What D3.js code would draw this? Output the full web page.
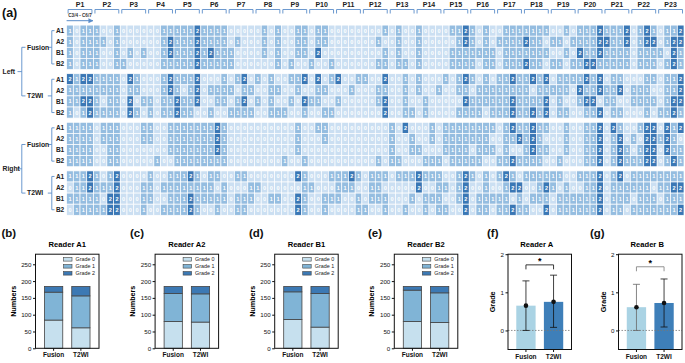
<!DOCTYPE html>
<html>
<head>
<meta charset="utf-8">
<script src="https://cdn.jsdelivr.net/npm/d3@7"></script>
<style>
  body { margin: 0; background: #fff; }
  svg { display: block; font-family: "Liberation Sans", Arial, sans-serif; }
</style>
</head>
<body>
<div id="chart"></div>
<script>
// ---- data ----
const patients = d3.range(1, 24).map(i => "P" + i);
const readers = ["A1", "A2", "B1", "B2"];
const sides = ["Left", "Right"];
const methods = ["Fusion", "T2WI"];

// grade per cell, one string per reader, 4 digits per patient (C3/4 .. C6/7)
const leftFusion = [
  "1011 1001 0000 0011 1112 1111 0000 0101 0011 0110 0000 0001 0100 1000 0112 1010 0111 1111 0010 1112 1112 0121 0112",
  "1011 1101 0000 0012 1112 1111 0100 0101 0011 0110 0000 0010 0100 1000 0012 1010 1111 2110 1101 1112 2112 0122 0122",
  "1011 1001 0101 0012 1112 1211 1000 0101 0011 0200 0000 0001 0100 1000 0111 1111 0111 1111 0010 2112 1111 0111 1021",
  "1011 1001 1000 0011 1112 1111 1000 0001 0100 1001 0000 0011 0110 1000 0111 1011 0111 2110 1101 1221 1111 0111 0121"
];
const leftT2WI = [
  "2122 1111 0210 0012 1112 0001 0120 1010 0112 0201 2001 1002 0010 1000 1012 1010 1121 1212 0111 1212 0110 0011 0112",
  "1111 1111 0110 0012 1012 0111 1011 0011 0010 0110 0010 0011 0010 1001 0011 0111 1111 1011 1110 2112 1120 1110 0112",
  "1122 1011 0201 1011 2112 0011 0120 1010 0102 1100 1000 0012 0010 0100 0002 1111 1121 1112 0100 1220 1100 1111 0122",
  "1012 1111 0210 1011 2110 0100 1111 0011 1001 0011 0000 0002 0011 0100 0011 1101 1121 1212 0110 0112 0110 0010 1121"
];
const rightFusion = [
  "1111 0111 0001 1001 1111 1121 0000 0000 0010 0110 0000 0000 1020 0010 1111 1111 0121 1211 0010 0112 0210 0122 0212",
  "1111 0111 0001 1001 1111 1121 0000 0000 0010 0010 0000 0000 1001 0010 1111 1110 0112 1210 0010 0112 0120 1022 1210",
  "1111 0011 0000 0001 1111 1121 0000 0000 0010 0000 0000 0000 1001 1000 1111 0111 0100 1211 0010 0112 0121 0122 0211",
  "1111 0011 0000 0100 1111 1111 0000 0000 1001 0000 0000 0010 1100 0111 0111 1100 1121 1110 0100 0112 0121 1122 0121"
];
const rightT2WI = [
  "1112 1012 0000 1001 1121 0110 0110 0000 0021 0001 1121 0111 0111 2111 0012 1010 1210 1111 1100 1112 0120 1111 1111",
  "0112 1112 0001 1011 1111 1101 0001 1000 0001 1000 1110 0110 0000 2001 1012 0010 0122 0012 1010 0112 0111 1110 1122",
  "1111 1022 0001 1001 1121 1111 0111 0011 0021 0011 1001 0111 0001 0111 0012 0111 1101 0111 0111 1112 0111 0111 0111",
  "0111 1122 0001 0011 1121 0010 0110 0000 0021 0010 0001 1001 0010 0101 1002 0110 1121 1002 0111 1112 0110 1111 1112"
];

// stacked counts [grade 0, grade 1, grade 2] per reader A1, A2, B1, B2
const stackReaders = ["Reader A1", "Reader A2", "Reader B1", "Reader B2"];
const gradeNames = ["Grade 0", "Grade 1", "Grade 2"];
const fusionCounts = [[84, 83, 17], [80, 83, 21], [86, 82, 16], [80, 93, 11]];
const t2wiCounts = [[61, 95, 28], [78, 84, 22], [63, 100, 21], [77, 88, 19]];
const countTicks = [0, 50, 100, 150, 200, 250];

// mean grade with error range, readers A and B
const meanReaders = ["Reader A", "Reader B"];
const meanFusion = [0.65, 0.61];
const meanT2WI = [0.75, 0.72];
const errFusion = [[0, 1.30], [0, 1.21]];
const errT2WI = [[0.08, 1.45], [0.09, 1.35]];
const sigLevel = [1.72, 1.67];
const gradeTicks = [0, 1, 2];

// ---- drawing ----
const svg = d3.select("#chart").append("svg")
  .attr("width", 685).attr("height", 363);

const blue = "#5b8dc9";
const cellColor = d3.scaleOrdinal().domain([0, 1, 2]).range(["#cbdff2", "#95bde0", "#3a77b5"]);

// panel (a) heatmap
const groups = [leftFusion, leftT2WI, rightFusion, rightT2WI];
const cells = [];
groups.forEach((g, gi) => g.forEach((row, ri) => {
  row.replace(/\s/g, "").split("").forEach((v, ci) => cells.push({g: gi, r: ri, c: ci, v: +v}));
}));

const x = d3.scaleBand().domain(d3.range(92)).range([66.6, 684]);
const gy = d3.scaleBand().domain(d3.range(4)).range([25.1, 215.3]).paddingInner(0.0864);
const ry = d3.scaleBand().domain(d3.range(4)).range([0, gy.bandwidth()]);

const heat = svg.append("g");
heat.selectAll("rect")
  .data(cells)
  .join("rect")
  .attr("x", d => x(d.c))
  .attr("y", d => gy(d.g) + ry(d.r))
  .attr("width", x.bandwidth())
  .attr("height", ry.bandwidth())
  .attr("fill", d => cellColor(d.v))
  .attr("stroke", "#fff")
  .attr("stroke-width", 0.7);

heat.selectAll("text")
  .data(cells)
  .join("text")
  .attr("x", d => x(d.c) + x.bandwidth() / 2)
  .attr("y", d => gy(d.g) + ry(d.r) + ry.bandwidth() / 2 + 2)
  .attr("text-anchor", "middle")
  .attr("fill", "#fff")
  .style("font-size", "5.5px")
  .style("font-weight", "bold")
  .text(d => d.v);

// patient headers with brackets
const head = svg.append("g");
patients.forEach((p, i) => {
  const x0 = x(i * 4), x1 = x(i * 4 + 3) + x.bandwidth();
  head.append("text")
    .attr("x", (x0 + x1) / 2).attr("y", 6.8)
    .attr("text-anchor", "middle")
    .style("font-size", "7px").style("font-weight", "bold")
    .attr("fill", "#222")
    .text(p);
  head.append("path")
    .attr("d", `M${x0 + 1.5},13.5V9.5H${x1 - 1.5}V13.5`)
    .attr("fill", "none").attr("stroke", blue).attr("stroke-width", 0.9);
});

head.append("text")
  .attr("x", (x(0) + x(3) + x.bandwidth()) / 2).attr("y", 17.3)
  .attr("text-anchor", "middle")
  .style("font-size", "4.6px").style("font-weight", "bold")
  .attr("fill", "#333")
  .text("C3/4 - C6/7");

svg.append("defs").append("marker")
  .attr("id", "arr").attr("viewBox", "0 0 10 10")
  .attr("refX", 9).attr("refY", 5)
  .attr("markerWidth", 5).attr("markerHeight", 5)
  .attr("orient", "auto")
  .append("path").attr("d", "M0,0L10,5L0,10z").attr("fill", blue);

head.append("line")
  .attr("x1", x(0)).attr("x2", x(4) - 0.5)
  .attr("y1", 20.7).attr("y2", 20.7)
  .attr("stroke", blue).attr("stroke-width", 1)
  .attr("marker-end", "url(#arr)");

// row labels and brackets
const lab = svg.append("g").attr("fill", "#222");
const rowY = (g, r) => gy(g) + ry(r) + ry.bandwidth() / 2;
d3.range(4).forEach(g => {
  readers.forEach((rd, r) => {
    lab.append("text")
      .attr("x", 64.2).attr("y", rowY(g, r) + 2.3)
      .attr("text-anchor", "end")
      .style("font-size", "6.5px").style("font-weight", "bold")
      .text(rd);
  });
  const yTop = rowY(g, 0), yBot = rowY(g, 3), yMid = gy(g) + gy.bandwidth() / 2;
  lab.append("path")
    .attr("d", `M54.5,${yTop}H51.8V${yBot}H54.5M51.8,${yMid}H47.8`)
    .attr("fill", "none").attr("stroke", blue).attr("stroke-width", 0.9);
  lab.append("text")
    .attr("x", 27).attr("y", yMid + 2.4)
    .style("font-size", "6.8px").style("font-weight", "bold")
    .text(methods[g % 2]);
});
sides.forEach((s, si) => {
  const y1 = gy(si * 2) + gy.bandwidth() / 2;
  const y2 = gy(si * 2 + 1) + gy.bandwidth() / 2;
  lab.append("path")
    .attr("d", `M25.5,${y1}H21.8V${y2}H25.5M21.8,${(y1 + y2) / 2}H17.5`)
    .attr("fill", "none").attr("stroke", blue).attr("stroke-width", 0.9);
  lab.append("text")
    .attr("x", 2.5).attr("y", (y1 + y2) / 2 + 2.4)
    .style("font-size", "6.8px").style("font-weight", "bold")
    .text(s);
});

// panel letters
const letters = [["(a)", 2, 17], ["(b)", 1.5, 237], ["(c)", 130, 237], ["(d)", 249, 237],
                 ["(e)", 368, 237], ["(f)", 487, 237], ["(g)", 590, 237]];
svg.selectAll(".letter")
  .data(letters)
  .join("text")
  .attr("x", d => d[1]).attr("y", d => d[2])
  .style("font-size", d => d[0] === "(a)" ? "12.5px" : "11.5px")
  .style("font-weight", "bold")
  .attr("fill", "#111")
  .text(d => d[0]);

// panels (b)-(e) stacked bars
const stackColors = ["#c6e0ee", "#80b4d6", "#3c79b4"];
const yCount = d3.scaleLinear().domain([0, 280]).range([348.3, 254.2]);
const pw = 63.5;

stackReaders.forEach((title, i) => {
  const left = 35.5 + 119.6 * i;
  const g = svg.append("g");
  const xb = d3.scaleBand().domain(methods).range([left, left + pw]).padding(0.33);

  const series = [fusionCounts[i], t2wiCounts[i]];
  series.forEach((counts, mi) => {
    let acc = 0;
    counts.forEach((c, k) => {
      g.append("rect")
        .attr("x", xb(methods[mi]))
        .attr("y", yCount(acc + c))
        .attr("width", xb.bandwidth())
        .attr("height", yCount(acc) - yCount(acc + c))
        .attr("fill", stackColors[k])
        .attr("stroke", "#444").attr("stroke-width", 0.8);
      acc += c;
    });
  });

  // frame
  g.append("rect")
    .attr("x", left).attr("y", yCount(280))
    .attr("width", pw).attr("height", yCount(0) - yCount(280))
    .attr("fill", "none").attr("stroke", "#111").attr("stroke-width", 1);

  const ya = g.append("g")
    .attr("transform", `translate(${left},0)`)
    .call(d3.axisLeft(yCount).tickValues(countTicks).tickSize(2.5).tickPadding(1.5));
  ya.select(".domain").remove();
  ya.selectAll("text").style("font-size", "6.2px").attr("fill", "#111").style("font-family", "Liberation Sans, Arial");
  ya.selectAll("line").attr("stroke", "#111");

  const xa = g.append("g")
    .attr("transform", `translate(0,${yCount(0)})`)
    .call(d3.axisBottom(xb).tickSize(2.5).tickPadding(2));
  xa.select(".domain").remove();
  xa.selectAll("text").style("font-size", "6.5px").style("font-weight", "bold").attr("fill", "#111")
    .style("font-family", "Liberation Sans, Arial");
  xa.selectAll("line").attr("stroke", "#111");

  g.append("text")
    .attr("x", left + pw / 2).attr("y", 247)
    .attr("text-anchor", "middle")
    .style("font-size", "7.6px").style("font-weight", "bold")
    .text(title);

  g.append("text")
    .attr("transform", "rotate(-90)")
    .attr("x", -(yCount(0) + yCount(280)) / 2).attr("y", left - 20)
    .attr("text-anchor", "middle")
    .style("font-size", "7.2px").style("font-weight", "bold")
    .text("Numbers");

  // legend
  gradeNames.forEach((nm, k) => {
    const ly = 259.3 + k * 7;
    g.append("rect")
      .attr("x", left + 28).attr("y", ly - 1.8)
      .attr("width", 8.5).attr("height", 3.6)
      .attr("fill", stackColors[k]).attr("stroke", "#444").attr("stroke-width", 0.6);
    g.append("text")
      .attr("x", left + 40).attr("y", ly + 2)
      .style("font-size", "5.4px")
      .attr("fill", "#222")
      .text(nm);
  });
});

// panels (f)-(g) mean grade
const yGrade = d3.scaleLinear().domain([-0.5, 2]).range([349.5, 254.2]);
const meanColors = ["#aad3e4", "#3e7fb9"];

meanReaders.forEach((title, i) => {
  const left = i === 0 ? 508 : 618.5;
  const g = svg.append("g");
  const xb = d3.scaleBand().domain(methods).range([left, left + pw]).padding(0.3);
  const means = [meanFusion[i], meanT2WI[i]];
  const errs = [errFusion[i], errT2WI[i]];

  methods.forEach((m, mi) => {
    g.append("rect")
      .attr("x", xb(m)).attr("y", yGrade(means[mi]))
      .attr("width", xb.bandwidth())
      .attr("height", yGrade(-0.5) - yGrade(means[mi]))
      .attr("fill", meanColors[mi]);
  });

  // zero line
  g.append("line")
    .attr("x1", left).attr("x2", left + pw)
    .attr("y1", yGrade(0)).attr("y2", yGrade(0))
    .attr("stroke", "#777").attr("stroke-width", 0.8).attr("stroke-dasharray", "1.5,1.5");

  methods.forEach((m, mi) => {
    const cx = xb(m) + xb.bandwidth() / 2;
    const col = (i === 1 && mi === 0) ? "#666" : "#111";
    g.append("path")
      .attr("d", `M${cx - 3.5},${yGrade(errs[mi][1])}H${cx + 3.5}M${cx},${yGrade(errs[mi][1])}V${yGrade(errs[mi][0])}M${cx - 3.5},${yGrade(errs[mi][0])}H${cx + 3.5}`)
      .attr("fill", "none").attr("stroke", col).attr("stroke-width", 0.8);
    g.append("circle")
      .attr("cx", cx).attr("cy", yGrade(means[mi])).attr("r", 2.3)
      .attr("fill", "#111");
  });

  // significance bracket
  const c0 = xb("Fusion") + xb.bandwidth() / 2, c1 = xb("T2WI") + xb.bandwidth() / 2;
  const by = yGrade(sigLevel[i]);
  g.append("path")
    .attr("d", `M${c0},${by + 4.5}V${by}H${c1}V${by + 4.5}`)
    .attr("fill", "none").attr("stroke", i === 0 ? "#222" : "#888").attr("stroke-width", 0.9);
  g.append("text")
    .attr("x", (c0 + c1) / 2).attr("y", by - 1)
    .attr("text-anchor", "middle")
    .style("font-size", "9px").style("font-weight", "bold")
    .text("*");

  g.append("rect")
    .attr("x", left).attr("y", yGrade(2))
    .attr("width", pw).attr("height", yGrade(-0.5) - yGrade(2))
    .attr("fill", "none").attr("stroke", "#111").attr("stroke-width", 1);

  const ya = g.append("g")
    .attr("transform", `translate(${left},0)`)
    .call(d3.axisLeft(yGrade).tickValues(gradeTicks).tickFormat(d3.format("d")).tickSize(2.5).tickPadding(1.5));
  ya.select(".domain").remove();
  ya.selectAll("text").style("font-size", "6.2px").attr("fill", "#111").style("font-family", "Liberation Sans, Arial");
  ya.selectAll("line").attr("stroke", "#111");

  const xa = g.append("g")
    .attr("transform", `translate(0,${yGrade(-0.5)})`)
    .call(d3.axisBottom(xb).tickSize(2.5).tickPadding(2));
  xa.select(".domain").remove();
  xa.selectAll("text").style("font-size", "6.5px").style("font-weight", "bold").attr("fill", "#111")
    .style("font-family", "Liberation Sans, Arial");
  xa.selectAll("line").attr("stroke", "#111");

  g.append("text")
    .attr("x", left + pw / 2 - 3).attr("y", 247)
    .attr("text-anchor", "middle")
    .style("font-size", "7.6px").style("font-weight", "bold")
    .text(title);

  g.append("text")
    .attr("transform", "rotate(-90)")
    .attr("x", -(yGrade(-0.5) + yGrade(2)) / 2).attr("y", left - 13)
    .attr("text-anchor", "middle")
    .style("font-size", "7.2px").style("font-weight", "bold")
    .text("Grade");
});
</script>
</body>
</html>
